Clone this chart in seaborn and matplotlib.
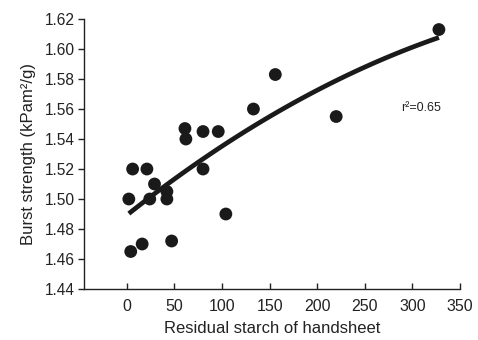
import numpy as np
import pandas as pd
import seaborn as sns
import matplotlib
matplotlib.use("Agg")
import matplotlib.pyplot as plt

# Residual starch in handsheets vs. burst strength
residual_starch = [2, 6, 21, 4, 16, 24, 29, 42, 42, 47, 61, 62, 80, 96, 80, 104, 133, 156, 220, 328]
burst_strength = [1.500, 1.520, 1.520, 1.465, 1.470, 1.500, 1.510, 1.505, 1.500, 1.472,
                  1.547, 1.540, 1.545, 1.545, 1.520, 1.490, 1.560, 1.583, 1.555, 1.613]
y_ticks = [1.44, 1.46, 1.48, 1.50, 1.52, 1.54, 1.56, 1.58, 1.60, 1.62]
x_ticks = [0, 50, 100, 150, 200, 250, 300, 350]

df = pd.DataFrame({"starch": residual_starch, "burst": burst_strength})

sns.set_style("white")
plt.rcParams["font.family"] = ["Liberation Sans", "DejaVu Sans"]

fig = plt.figure(figsize=(4.78, 3.40), dpi=100)
ax = fig.add_axes([0.176, 0.15, 0.786, 0.794])

sns.regplot(data=df, x="starch", y="burst", order=2, ci=None, ax=ax,
            scatter_kws=dict(s=85, color="#1a1a1a", edgecolor="none", alpha=1, zorder=3),
            line_kws=dict(color="#1a1a1a", lw=3.4, solid_capstyle="butt", zorder=2))

# r² of the quadratic fit
coef = np.polyfit(df["starch"], df["burst"], 2)
pred = np.polyval(coef, df["starch"])
r2 = 1 - np.sum((df["burst"] - pred) ** 2) / np.sum((df["burst"] - df["burst"].mean()) ** 2)
ax.text(309, 1.5605, f"r\u00b2={r2:.2f}", fontsize=9, color="#222222", va="center", ha="center")

ax.set_xlim(-45, 350)
ax.set_ylim(1.44, 1.62)
ax.set_xticks(x_ticks)
ax.set_yticks(y_ticks)
ax.set_yticklabels([f"{t:.2f}" for t in y_ticks])
ax.tick_params(axis="x", bottom=True, direction="in", length=4, width=1, labelsize=11.5, pad=7, colors="#222222")
ax.tick_params(axis="y", left=True, direction="out", length=4, width=1, labelsize=11.2, pad=3, colors="#222222")
for side in ("top", "right"):
    ax.spines[side].set_visible(False)
for side in ("left", "bottom"):
    ax.spines[side].set_color("#222222")
    ax.spines[side].set_linewidth(1)

ax.set_xlabel("Residual starch of handsheet", fontsize=12, color="#222222", labelpad=5)
ax.set_ylabel("Burst strength (kPam\u00b2/g)", fontsize=12, color="#222222", labelpad=6)

fig.savefig("out.png", dpi=100)
